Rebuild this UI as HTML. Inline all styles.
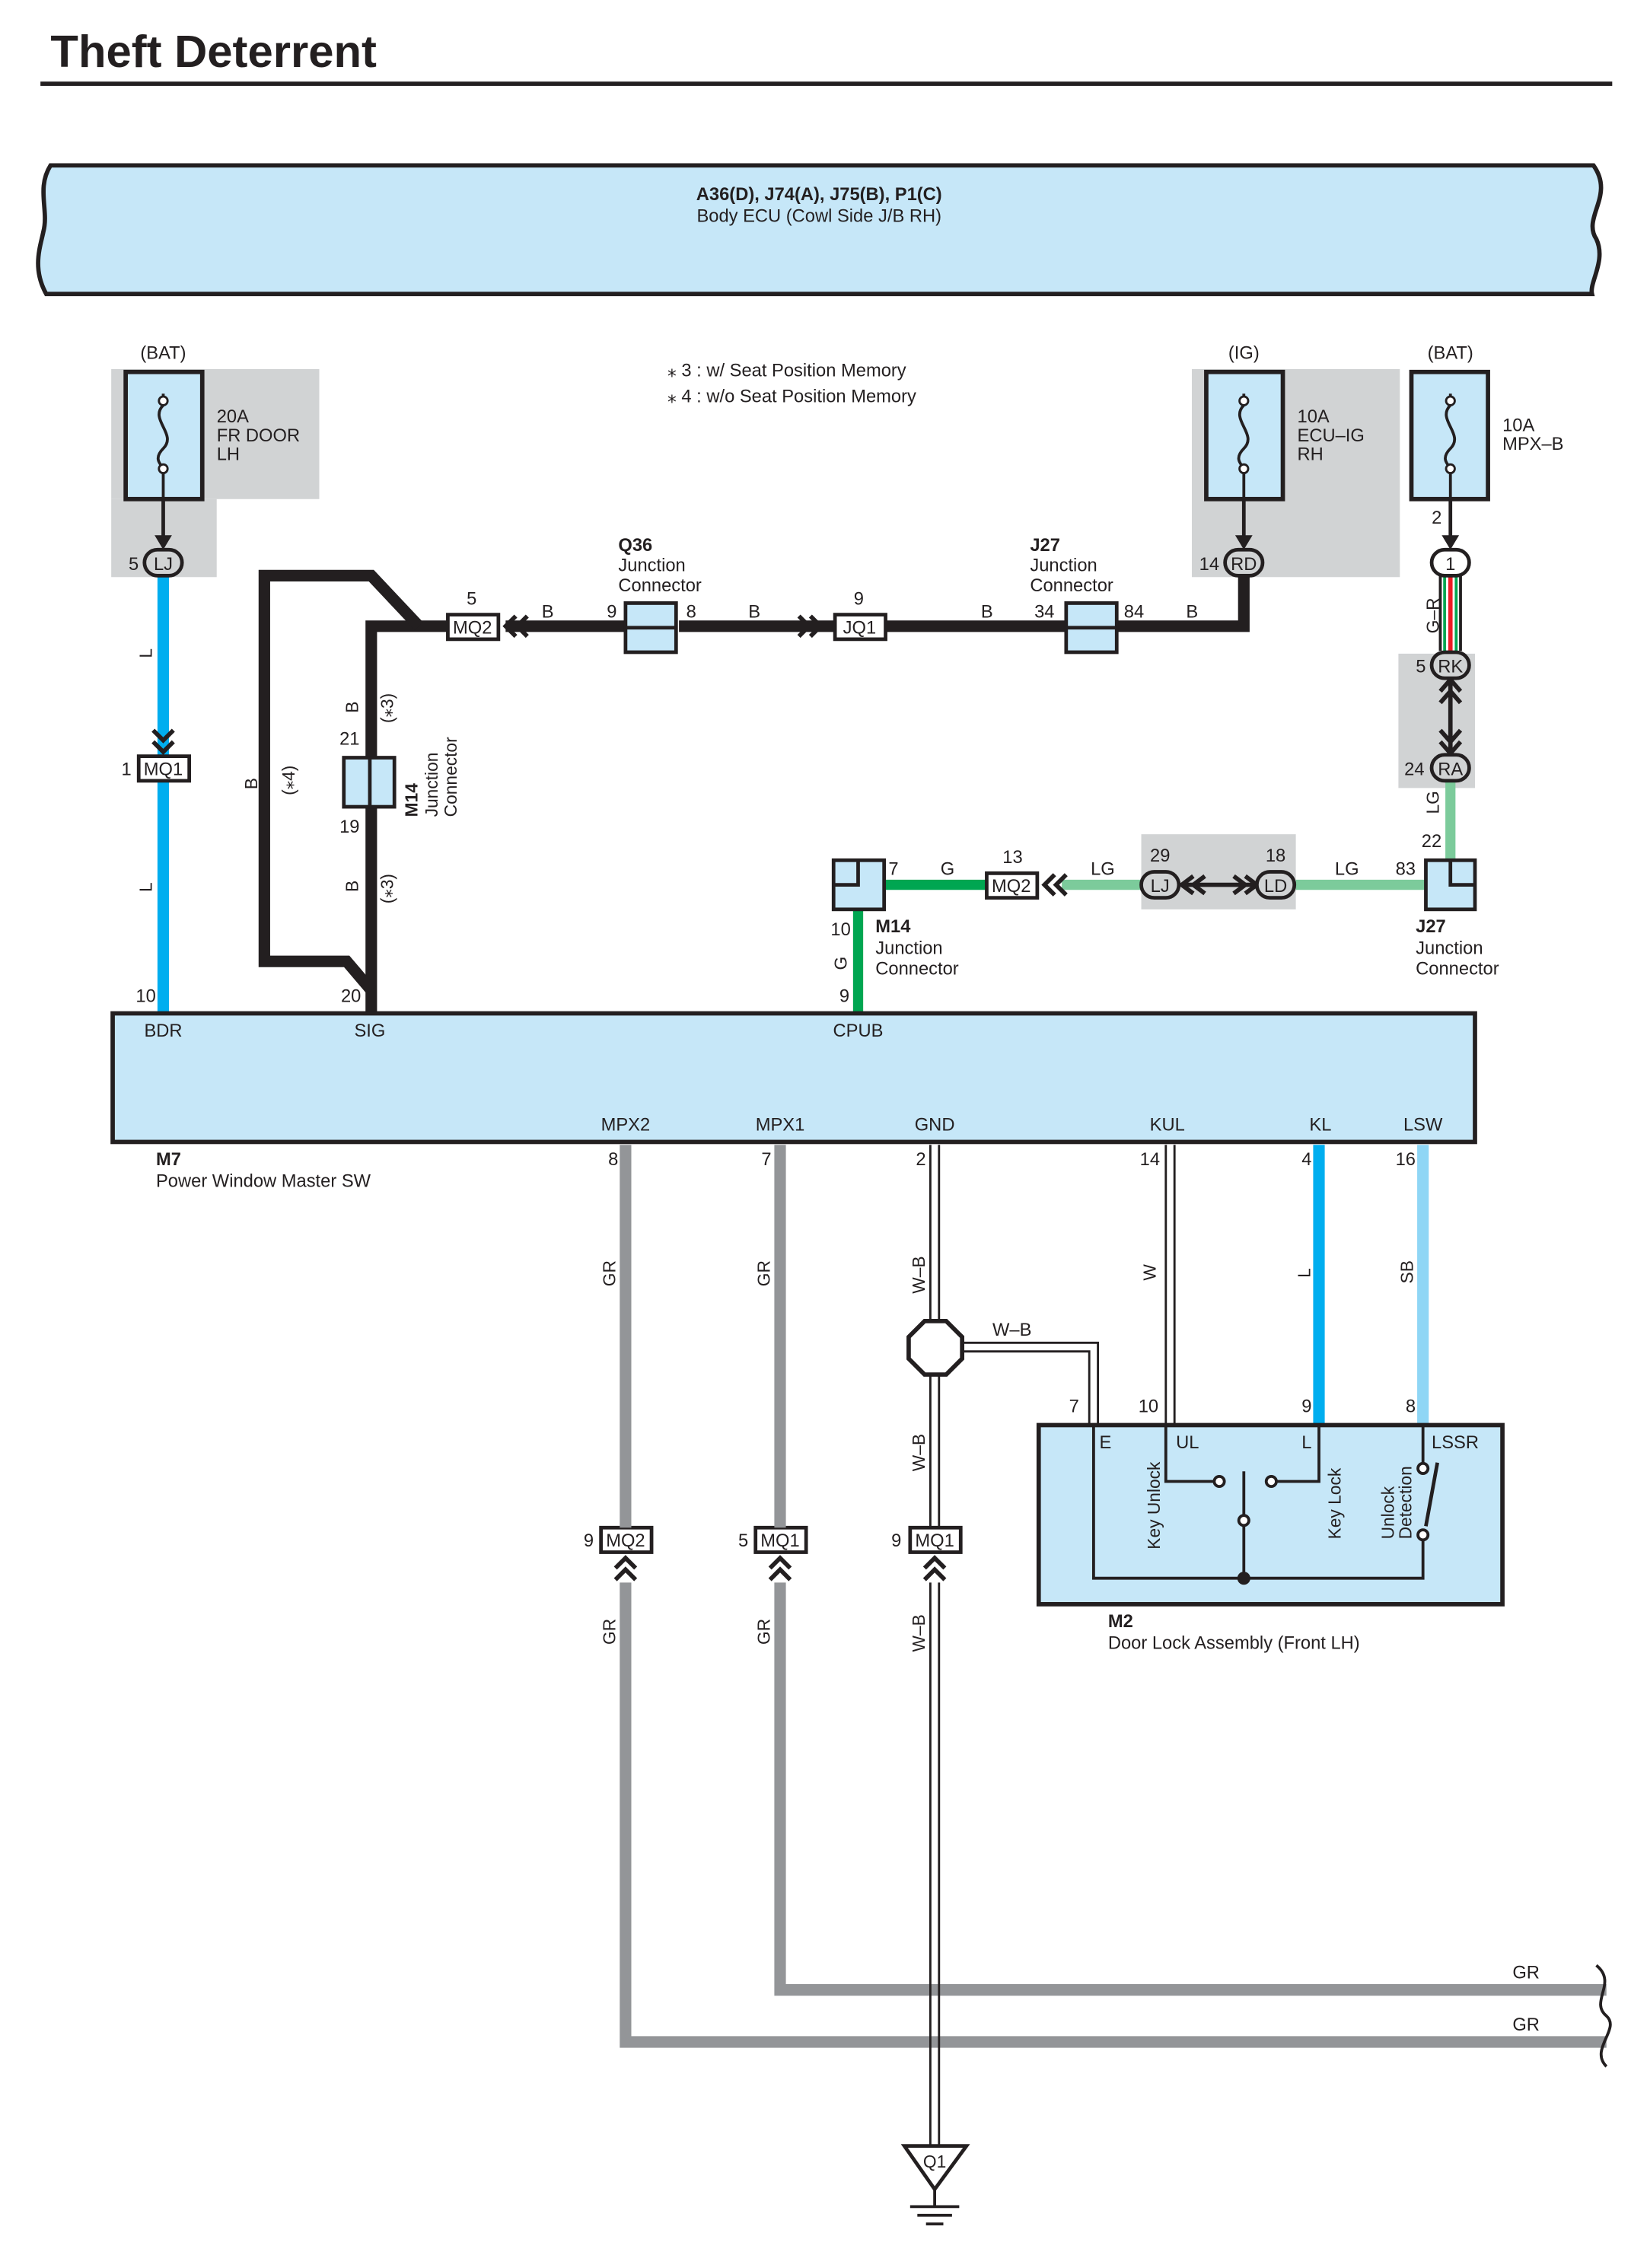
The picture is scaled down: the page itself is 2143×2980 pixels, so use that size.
<!DOCTYPE html>
<html><head><meta charset="utf-8"><style>
html,body{margin:0;padding:0;background:#fff}
svg{display:block}
text{font-family:"Liberation Sans",Arial,sans-serif;fill:#231f20}
</style></head><body>
<svg width="2143" height="2980" viewBox="0 0 1129 1569" xmlns="http://www.w3.org/2000/svg">
<text x="35" y="46" font-size="31.5" font-weight="bold">Theft Deterrent</text>
<rect x="28" y="56" width="1088" height="3" fill="#231f20"/>

<path d="M35,114 L1103,114 C1118,135 1095,150 1105,165 C1112,180 1100,195 1102,203 L32,203 C22,185 28,170 30,160 C34,145 25,130 35,114 Z" fill="#c6e7f8" stroke="#231f20" stroke-width="3"/>
<text x="567" y="138" font-size="12.5" font-weight="bold" text-anchor="middle">A36(D), J74(A), J75(B), P1(C)</text>
<text x="567" y="153" font-size="12.5" text-anchor="middle">Body ECU (Cowl Side J/B RH)</text>

<g fill="#d1d3d4">
<rect x="77" y="255" width="144" height="90"/><rect x="77" y="345" width="73" height="54"/>
<rect x="825" y="255" width="144" height="144"/>
<rect x="968" y="452" width="53" height="93"/>
<rect x="790" y="577" width="107" height="52"/>
</g>

<text x="462" y="260" font-size="12.5">⁎ 3 : w/ Seat Position Memory</text>
<text x="462" y="278" font-size="12.5">⁎ 4 : w/o Seat Position Memory</text>

<text x="113" y="248" font-size="12.5" text-anchor="middle">(BAT)</text>
<text x="861" y="248" font-size="12.5" text-anchor="middle">(IG)</text>
<text x="1004" y="248" font-size="12.5" text-anchor="middle">(BAT)</text>

<g stroke="#231f20" stroke-width="3" fill="#c6e7f8">
<rect x="87" y="257" width="53" height="88"/>
<rect x="835" y="257" width="53" height="88"/>
<rect x="977" y="257" width="53" height="88"/>
</g>
<g stroke="#231f20" stroke-width="2" fill="none">
<path d="M113,272 v8 c-10,10 10,20 0,30 c-8,8 0,12 0,14 v20"/>
<path d="M861,272 v8 c-10,10 10,20 0,30 c-8,8 0,12 0,14 v20"/>
<path d="M1004,272 v8 c-10,10 10,20 0,30 c-8,8 0,12 0,14 v20"/>
</g>
<g fill="#fff" stroke="#231f20" stroke-width="1.5">
<circle cx="113" cy="277" r="3"/><circle cx="113" cy="324" r="3"/>
<circle cx="861" cy="277" r="3"/><circle cx="861" cy="324" r="3"/>
<circle cx="1004" cy="277" r="3"/><circle cx="1004" cy="324" r="3"/>
</g>
<g stroke="#231f20" stroke-width="2.5"><line x1="113" y1="345" x2="113" y2="378"/><line x1="861" y1="345" x2="861" y2="378"/><line x1="1004" y1="345" x2="1004" y2="378"/></g>
<g fill="#231f20"><path d="M107,370 L113,380 L119,370Z"/><path d="M855,370 L861,380 L867,370Z"/><path d="M998,370 L1004,380 L1010,370Z"/></g>
<text x="150" y="292" font-size="12.5">20A</text><text x="150" y="305" font-size="12.5">FR DOOR</text><text x="150" y="318" font-size="12.5">LH</text>
<text x="898" y="292" font-size="12.5">10A</text><text x="898" y="305" font-size="12.5">ECU–IG</text><text x="898" y="318" font-size="12.5">RH</text>
<text x="1040" y="298" font-size="12.5">10A</text><text x="1040" y="311" font-size="12.5">MPX–B</text>

<line x1="113" y1="398" x2="113" y2="700" stroke="#00aeef" stroke-width="8"/>
<g stroke="#231f20" stroke-width="8" fill="none" stroke-linejoin="miter">
<path d="M861,398 V433 H470"/>
<path d="M432,433 H350"/>
<path d="M310,433 H257 V700"/>
<path d="M290,433 L257,398 H183 V665 H240 L257,685"/>
</g>
<g><line x1="1004" y1="398" x2="1004" y2="450" stroke="#ee1c25" stroke-width="3"/><line x1="1000" y1="398" x2="1000" y2="450" stroke="#00a651" stroke-width="2"/><line x1="1008" y1="398" x2="1008" y2="450" stroke="#00a651" stroke-width="2"/></g>
<g stroke="#231f20" stroke-width="2" fill="none"><line x1="997" y1="398" x2="997" y2="450"/><line x1="1011" y1="398" x2="1011" y2="450"/></g>
<line x1="1004" y1="470" x2="1004" y2="521" stroke="#231f20" stroke-width="3"/>
<path d="M997,478 L1004,470 L1011,478 M997,486 L1004,478 L1011,486" stroke="#231f20" stroke-width="3" fill="none"/>
<path d="M997,513 L1004,521 L1011,513 M997,505 L1004,513 L1011,505" stroke="#231f20" stroke-width="3" fill="none"/>
<g stroke="#7ccb9b" stroke-width="7" fill="none">
<path d="M1004,541 V596"/>
<path d="M987,612 H897"/>
<path d="M790,612 H735"/>
</g>
<line x1="818" y1="612" x2="870" y2="612" stroke="#231f20" stroke-width="3"/>
<path d="M826,606 L818,612 L826,618 M834,606 L826,612 L834,618" stroke="#231f20" stroke-width="3" fill="none"/>
<path d="M862,606 L870,612 L862,618 M854,606 L862,612 L854,618" stroke="#231f20" stroke-width="3" fill="none"/>
<path d="M683,612 H612 M594,628 V700" stroke="#00a651" stroke-width="7" fill="none"/>

<g fill="#d1d3d4" stroke="#231f20" stroke-width="2.5">
<rect x="100" y="380" width="26" height="18" rx="9"/>
<rect x="848" y="380" width="26" height="18" rx="9"/>
<rect x="991" y="380" width="26" height="18" rx="9" fill="#fff"/>
<rect x="991" y="451" width="26" height="18" rx="9"/>
<rect x="991" y="522" width="26" height="18" rx="9"/>
<rect x="790" y="603" width="26" height="18" rx="9"/>
<rect x="870" y="603" width="26" height="18" rx="9"/>
</g>
<g font-size="12.5" text-anchor="middle">
<text x="113" y="394">LJ</text><text x="861" y="394">RD</text><text x="1004" y="394">1</text>
<text x="1004" y="465">RK</text><text x="1004" y="536">RA</text>
<text x="803" y="617">LJ</text><text x="883" y="617">LD</text>
</g>
<g font-size="12.5" text-anchor="end">
<text x="96" y="394">5</text><text x="844" y="394">14</text><text x="998" y="362">2</text>
<text x="987" y="465">5</text><text x="986" y="536">24</text>
</g>
<text x="803" y="596" font-size="12.5" text-anchor="middle">29</text>
<text x="883" y="596" font-size="12.5" text-anchor="middle">18</text>

<g fill="#fff" stroke="#231f20" stroke-width="2.5">
<rect x="96" y="523" width="35" height="17"/>
<rect x="310" y="425" width="35" height="17"/>
<rect x="578" y="425" width="35" height="17"/>
<rect x="683" y="604" width="35" height="17"/>
<rect x="416" y="1057" width="35" height="17"/>
<rect x="523" y="1057" width="35" height="17"/>
<rect x="630" y="1057" width="35" height="17"/>
</g>
<g font-size="12.5" text-anchor="middle">
<text x="113" y="536">MQ1</text><text x="327" y="438">MQ2</text><text x="595" y="438">JQ1</text><text x="700" y="617">MQ2</text>
<text x="433" y="1070">MQ2</text><text x="540" y="1070">MQ1</text><text x="647" y="1070">MQ1</text>
</g>
<g stroke="#231f20" stroke-width="3" fill="none">
<path d="M106,505 L113,512 L120,505 M106,513 L113,520 L120,513"/>
<path d="M357,426 L350,433 L357,440 M365,426 L358,433 L365,440"/>
<path d="M561,426 L568,433 L561,440 M553,426 L560,433 L553,440"/>
<path d="M730,605 L723,612 L730,619 M738,605 L731,612 L738,619"/>
<path d="M426,1085 L433,1078 L440,1085 M426,1093 L433,1086 L440,1093"/>
<path d="M533,1085 L540,1078 L547,1085 M533,1093 L540,1086 L547,1093"/>
<path d="M640,1085 L647,1078 L654,1085 M640,1093 L647,1086 L654,1093"/>
</g>

<g fill="#c6e7f8" stroke="#231f20" stroke-width="2.5">
<rect x="433" y="417" width="35" height="34"/><line x1="433" y1="434" x2="468" y2="434"/>
<rect x="738" y="417" width="35" height="34"/><line x1="738" y1="434" x2="773" y2="434"/>
<rect x="238" y="524" width="35" height="34"/><line x1="256" y1="524" x2="256" y2="558"/>
<rect x="577" y="595" width="35" height="34"/><path d="M577,612 H594 V595"/>
<rect x="987" y="595" width="34" height="34"/><path d="M1004,595 V612 H1021"/>
</g>

<g font-size="12.5">
<text x="428" y="381" font-weight="bold">Q36</text><text x="428" y="395">Junction</text><text x="428" y="409">Connector</text>
<text x="713" y="381" font-weight="bold">J27</text><text x="713" y="395">Junction</text><text x="713" y="409">Connector</text>
<text x="323" y="418">5</text><text x="375" y="427">B</text><text x="420" y="427">9</text><text x="475" y="427">8</text><text x="518" y="427">B</text>
<text x="591" y="418">9</text><text x="679" y="427">B</text><text x="716" y="427">34</text><text x="778" y="427">84</text><text x="821" y="427">B</text>
<text x="235" y="515">21</text><text x="235" y="576">19</text>
<text x="84" y="536">1</text>
<text x="615" y="605">7</text><text x="651" y="605">G</text><text x="694" y="597">13</text><text x="755" y="605">LG</text><text x="924" y="605">LG</text>
<text x="966" y="605">83</text><text x="984" y="586">22</text>
<text x="575" y="647">10</text>
<text x="606" y="645" font-weight="bold">M14</text><text x="606" y="660">Junction</text><text x="606" y="674">Connector</text>
<text x="980" y="645" font-weight="bold">J27</text><text x="980" y="660">Junction</text><text x="980" y="674">Connector</text>
<text x="94" y="693">10</text><text x="236" y="693">20</text><text x="581" y="693">9</text>
</g>
<g font-size="12">
<text transform="translate(105,455) rotate(-90)">L</text>
<text transform="translate(105,617) rotate(-90)">L</text>
<text transform="translate(178,546) rotate(-90)">B</text>
<text transform="translate(204,550) rotate(-90)">(⁎4)</text>
<text transform="translate(248,493) rotate(-90)">B</text>
<text transform="translate(248,617) rotate(-90)">B</text>
<text transform="translate(272,500) rotate(-90)">(⁎3)</text>
<text transform="translate(272,625) rotate(-90)">(⁎3)</text>
<text transform="translate(289,565) rotate(-90)" font-weight="bold">M14</text>
<text transform="translate(303,565) rotate(-90)">Junction</text>
<text transform="translate(316,565) rotate(-90)">Connector</text>
<text transform="translate(996,438) rotate(-90)">G–R</text>
<text transform="translate(996,563) rotate(-90)">LG</text>
<text transform="translate(586,671) rotate(-90)">G</text>
</g>

<rect x="78" y="701" width="943" height="89" fill="#c6e7f8" stroke="#231f20" stroke-width="3"/>
<g font-size="12.5" text-anchor="middle">
<text x="113" y="717">BDR</text><text x="256" y="717">SIG</text><text x="594" y="717">CPUB</text>
<text x="433" y="782">MPX2</text><text x="540" y="782">MPX1</text><text x="647" y="782">GND</text>
<text x="808" y="782">KUL</text><text x="914" y="782">KL</text><text x="985" y="782">LSW</text>
</g>
<text x="108" y="806" font-size="12.5" font-weight="bold">M7</text>
<text x="108" y="821" font-size="12.5">Power Window Master SW</text>

<g stroke="#939598" stroke-width="8" fill="none">
<path d="M433,792 V1057 M433,1095 V1413 H1112"/>
<path d="M540,792 V1057 M540,1095 V1377 H1112"/>
</g>
<g stroke="#231f20" stroke-width="1.5" fill="none">
<path d="M644,792 V914 M650,792 V914 M644,951 V1057 M650,951 V1057 M644,1095 V1487 M650,1095 V1487"/>
<path d="M664,929 H760 V985 M664,935 H754 V985"/>
<path d="M807,792 V985 M813,792 V985"/>
</g>
<line x1="913" y1="792" x2="913" y2="985" stroke="#00aeef" stroke-width="8"/>
<line x1="985" y1="792" x2="985" y2="985" stroke="#8fd6f5" stroke-width="8"/>
<polygon points="640,914 655,914 666,925 666,940 655,951 640,951 629,940 629,925" fill="#fff" stroke="#231f20" stroke-width="3"/>
<path d="M1105,1360 C1120,1372 1100,1385 1112,1395 C1122,1404 1100,1418 1112,1430" stroke="#231f20" stroke-width="2" fill="none"/>

<g font-size="12.5">
<text x="421" y="806">8</text><text x="527" y="806">7</text><text x="634" y="806">2</text><text x="789" y="806">14</text><text x="901" y="806">4</text><text x="966" y="806">16</text>
<text x="687" y="924">W–B</text>
<text x="740" y="977">7</text><text x="788" y="977">10</text><text x="901" y="977">9</text><text x="973" y="977">8</text>
<text x="404" y="1070">9</text><text x="511" y="1070">5</text><text x="617" y="1070">9</text>
<text x="1047" y="1369">GR</text><text x="1047" y="1405">GR</text>
</g>
<g font-size="12">
<text transform="translate(426,890) rotate(-90)">GR</text>
<text transform="translate(533,890) rotate(-90)">GR</text>
<text transform="translate(640,895) rotate(-90)">W–B</text>
<text transform="translate(800,886) rotate(-90)">W</text>
<text transform="translate(907,884) rotate(-90)">L</text>
<text transform="translate(978,888) rotate(-90)">SB</text>
<text transform="translate(640,1018) rotate(-90)">W–B</text>
<text transform="translate(426,1138) rotate(-90)">GR</text>
<text transform="translate(533,1138) rotate(-90)">GR</text>
<text transform="translate(640,1143) rotate(-90)">W–B</text>
</g>

<rect x="719" y="986" width="321" height="124" fill="#c6e7f8" stroke="#231f20" stroke-width="3"/>
<g stroke="#231f20" stroke-width="2" fill="none">
<path d="M757,986 V1092 H985 V1060"/>
<path d="M807,986 V1025 H840"/>
<path d="M913,986 V1025 H884"/>
<path d="M861,1018 V1092"/>
<path d="M985,986 V1012"/>
<path d="M987,1056 L995,1012" stroke-width="2.5"/>
</g>
<g fill="#fff" stroke="#231f20" stroke-width="2">
<circle cx="844" cy="1025" r="3.5"/><circle cx="880" cy="1025" r="3.5"/><circle cx="861" cy="1052" r="3.5"/>
<circle cx="985" cy="1016" r="3.5"/><circle cx="985" cy="1062" r="3.5"/>
</g>
<circle cx="861" cy="1092" r="4.5" fill="#231f20"/>
<g font-size="12.5">
<text x="761" y="1002">E</text><text x="814" y="1002">UL</text><text x="901" y="1002">L</text><text x="991" y="1002">LSSR</text>
</g>
<g font-size="12">
<text transform="translate(803,1072) rotate(-90)">Key Unlock</text>
<text transform="translate(928,1065) rotate(-90)">Key Lock</text>
<text transform="translate(965,1065) rotate(-90)">Unlock</text>
<text transform="translate(977,1065) rotate(-90)">Detection</text>
</g>
<text x="767" y="1126" font-size="12.5" font-weight="bold">M2</text>
<text x="767" y="1141" font-size="12.5">Door Lock Assembly (Front LH)</text>

<polygon points="626,1485 669,1485 647,1515" fill="#fff" stroke="#231f20" stroke-width="2.5"/>
<text x="647" y="1500" font-size="12" text-anchor="middle">Q1</text>
<g stroke="#231f20" stroke-width="2"><line x1="647" y1="1515" x2="647" y2="1527"/><line x1="630" y1="1527" x2="664" y2="1527"/><line x1="635" y1="1533" x2="659" y2="1533"/><line x1="641" y1="1539" x2="653" y2="1539"/></g>
</svg>
</body></html>
